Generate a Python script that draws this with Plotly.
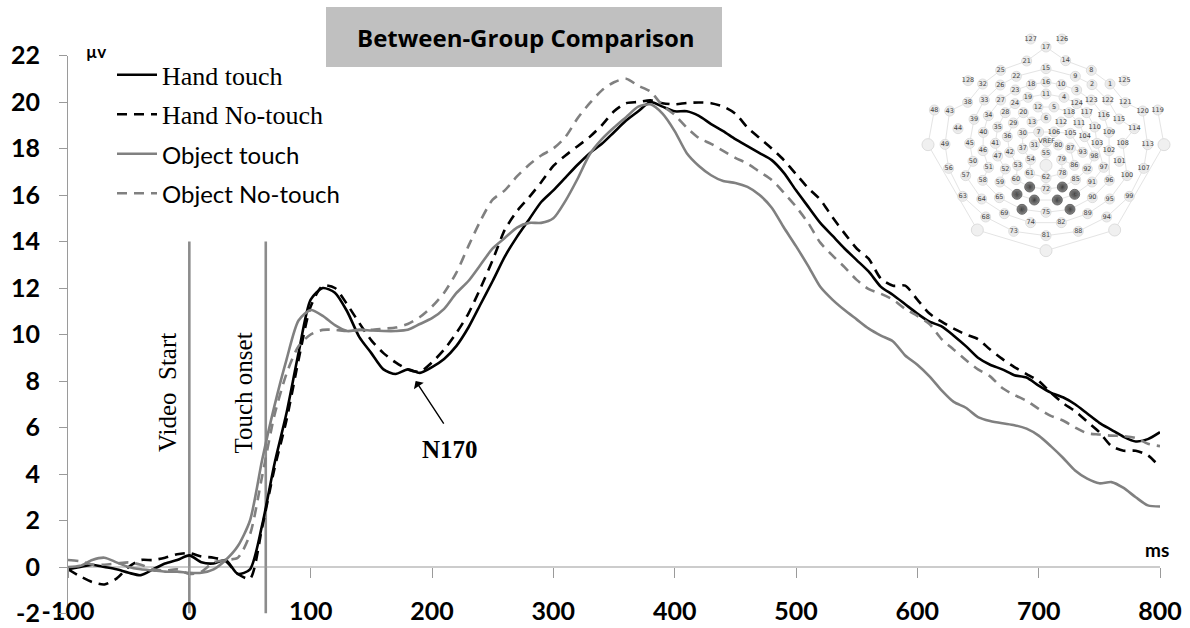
import plotly.graph_objects as go

W, H = 1190, 628

# ---- ERP waveforms (µV), sampled every 10 ms from -100 to 800 ms ----
time_ms = list(range(-100, 801, 10))

hand_touch = [
    -0.1, 0.0, 0.1, 0.0, -0.1, -0.25, -0.35, -0.1, 0.15, 0.3,
    0.5, 0.2, 0.15, 0.3, -0.3, -0.1, 1.8, 4.4, 6.6, 9.2,
    11.5, 12.0, 11.8, 11.0, 9.9, 9.2, 8.5, 8.3, 8.5, 8.35,
    8.6, 8.95, 9.5, 10.3, 11.3, 12.3, 13.35, 14.2, 14.95, 15.7,
    16.2, 16.75, 17.3, 17.8, 18.2, 18.7, 19.2, 19.6, 20.0, 19.8,
    19.6, 19.6, 19.4, 19.05, 18.75, 18.4, 18.1, 17.8, 17.5, 16.95,
    16.2, 15.5, 14.8, 14.25, 13.7, 13.2, 12.7, 12.05, 11.7, 11.3,
    10.9, 10.55, 10.35, 9.95, 9.5, 9.0, 8.7, 8.5, 8.25, 8.15,
    7.8, 7.5, 7.3, 7.0, 6.6, 6.2, 5.9, 5.6, 5.4, 5.5,
    5.8,
]

hand_no_touch = [
    -0.1, -0.4, -0.65, -0.75, -0.5, 0.0, 0.3, 0.3, 0.4, 0.55,
    0.6, 0.45, 0.4, 0.25, -0.3, -0.5, 1.7, 4.2, 6.3, 8.9,
    11.2, 12.1, 12.0, 11.3, 10.5, 9.75, 9.2, 8.8, 8.5, 8.4,
    8.8, 9.35, 10.06, 10.9, 12.0, 13.2, 14.5, 15.3, 15.9, 16.55,
    17.25, 17.7, 18.1, 18.5, 19.0, 19.6, 19.95, 20.0, 20.07, 19.95,
    19.9, 19.96, 19.98, 19.95, 19.8, 19.5, 18.9, 18.45, 18.0, 17.5,
    16.9, 16.3, 15.8, 15.05, 14.35, 13.7, 13.25, 12.4, 12.1, 12.1,
    11.5, 10.9, 10.55, 10.25, 10.0, 9.8, 9.35, 8.95, 8.6, 8.3,
    8.0, 7.5, 7.05, 6.7, 6.25, 5.8, 5.2, 5.0, 5.0, 4.8,
    4.3,
]

object_touch = [
    0.0, 0.05, 0.3, 0.4, 0.2, 0.0, -0.1, -0.15, -0.2, -0.2,
    -0.25, -0.25, -0.1, 0.3, 0.9, 2.0, 4.6, 6.9, 8.9, 10.6,
    11.05, 10.8, 10.4, 10.15, 10.2, 10.17, 10.15, 10.15, 10.2, 10.45,
    10.7, 11.1, 11.78, 12.3, 13.0, 13.7, 14.15, 14.6, 14.8, 14.8,
    15.0, 15.75, 16.7, 17.75, 18.4, 18.9, 19.35, 19.8, 19.9, 19.5,
    18.75, 17.8, 17.25, 16.85, 16.6, 16.52, 16.35, 16.0, 15.45, 14.6,
    13.8, 12.95, 12.05, 11.5, 11.05, 10.65, 10.25, 9.95, 9.7, 9.1,
    8.7, 8.2, 7.6, 7.1, 6.85, 6.45, 6.28, 6.18, 6.1, 5.95,
    5.65, 5.2, 4.7, 4.15, 3.8, 3.6, 3.65, 3.4, 3.0, 2.65,
    2.6,
]

object_no_touch = [
    0.3, 0.25, 0.1, 0.1, 0.15, 0.2, 0.1, -0.1, -0.15, -0.1,
    -0.3, -0.2, 0.2, 0.3, 0.4, 1.4, 3.9, 6.5, 8.3, 9.5,
    10.0, 10.2, 10.2, 10.15, 10.2, 10.2, 10.25, 10.3, 10.45, 10.75,
    11.2, 11.8, 12.65, 13.8, 14.9, 15.8, 16.2, 16.8, 17.3, 17.7,
    18.0, 18.5, 19.3, 19.95, 20.5, 20.85, 21.0, 20.7, 20.45, 19.85,
    19.45, 18.9, 18.45, 18.2, 17.9, 17.6, 17.35, 17.0, 16.65, 16.1,
    15.5, 14.8, 13.95, 13.4, 12.9, 12.35, 11.95, 11.75, 11.5, 11.1,
    10.8, 10.45, 9.8, 9.35, 8.9, 8.5, 8.2, 7.7, 7.4, 7.15,
    6.8, 6.5, 6.3, 6.0, 5.75, 5.7, 5.65, 5.63, 5.55, 5.3,
    5.2,
]

x_ticks = list(range(-100, 801, 100))
x_ticktext = [str(v) for v in x_ticks]
y_ticks = list(range(-2, 23, 2))
y_ticktext = [str(v) for v in y_ticks]
x_range = [-100, 800]
y_range = [-2, 22]

# event markers (ms)
event_times = [0, 63]
event_labels = ["Video  Start", "Touch onset"]
event_top = 14

# N170 component marker
n170_peak = (186.5, 8.0)
n170_label = "N170"

# ---- 128-channel sensor net layout (layout units) ----
sensor_labels = [
    "127", "126", "17", "21", "14", "25", "15", "8", "22", "9",
    "128", "32", "26", "18", "16", "10", "2", "1", "125", "23", "3",
    "11", "19", "4", "33", "27", "24", "124", "123", "122", "121",
    "38", "48", "43", "120", "119", "12", "5", "28", "20", "118", "117",
    "116", "115", "114", "39", "34", "29", "13", "6", "112", "111", "110",
    "44", "35", "40", "30", "7", "106", "105", "104", "109", "103", "108",
    "113", "36", "41", "31", "VREF", "80", "87", "45", "49", "46", "47",
    "42", "37", "55", "93", "98", "102", "50", "54", "79", "101", "56",
    "51", "52", "53", "86", "92", "97", "107", "57", "58", "59", "60",
    "61", "62", "78", "85", "91", "96", "100", "67", "72", "77", "66",
    "71", "76", "84", "63", "64", "65", "90", "95", "99", "70", "75",
    "83", "68", "69", "89", "94", "74", "82", "73", "81", "88",
]
sensor_x = [
    392, 486, 438, 380, 497, 302, 438, 574, 349, 526,
    204, 248, 301, 394, 438, 484, 576, 630, 673, 346, 530,
    438, 384, 492, 253, 302, 345, 530, 574, 623, 676,
    203, 103, 149, 728, 773, 414, 462, 316, 370, 507, 560,
    611, 657, 703, 222, 265, 340, 396, 438, 483, 537, 584,
    174, 293, 250, 368, 416, 462, 511, 554, 627, 591, 668,
    743, 322, 286, 403, 440, 475, 511, 209, 135, 249, 293,
    329, 368, 438, 548, 583, 627, 219, 392, 485, 658, 146,
    266, 316, 353, 523, 562, 611, 731, 197, 248, 300, 348,
    389, 438, 487, 527, 576, 628, 681, 389, 438, 487, 351,
    403, 472, 524, 188, 245, 298, 577, 629, 688, 366, 438,
    510, 257, 313, 563, 620, 392, 484, 341, 438, 535,
]
sensor_y = [
    117, 117, 141, 183, 182, 211, 206, 211, 229, 229,
    242, 252, 255, 254, 246, 254, 254, 252, 242, 270, 270,
    282, 292, 292, 300, 300, 311, 311, 300, 300, 308,
    307, 330, 333, 333, 330, 321, 321, 338, 338, 338, 338,
    346, 357, 386, 358, 347, 369, 366, 354, 366, 369, 381,
    386, 381, 397, 400, 396, 396, 400, 410, 397, 430, 430,
    434, 410, 430, 435, 425, 435, 444, 430, 433, 452, 468,
    457, 446, 459, 457, 468, 452, 484, 479, 479, 484, 505,
    502, 507, 496, 496, 507, 502, 505, 527, 541, 546, 539,
    520, 533, 520, 539, 546, 541, 527, 561, 567, 561, 583,
    600, 600, 583, 589, 597, 593, 593, 597, 589, 628, 637,
    628, 651, 641, 641, 651, 668, 668, 694, 707, 694,
]
# electrodes of the analysed cluster
cluster = ["66", "67", "70", "71", "76", "77", "83", "84"]

# reference / landmark pads without numbers
pad_x = [84, 792, 232, 644, 438, 438]
pad_y = [434, 434, 690, 690, 752, 496]

# rings of the net
net_rings = [
    ["48", "PL", "PBL", "PB", "PBR", "PR", "119"],
    ["17", "21", "25", "32", "38", "43", "49", "56", "63", "68", "73", "81",
     "88", "94", "99", "107", "113", "120", "121", "1", "8", "14", "17"],
    ["15", "22", "26", "33", "39", "45", "50", "57", "64", "69", "74", "82",
     "89", "95", "100", "108", "114", "115", "122", "2", "9", "15"],
    ["16", "18", "23", "27", "34", "40", "46", "51", "58", "65", "70", "75",
     "83", "90", "96", "102", "109", "116", "123", "3", "10", "16"],
    ["11", "19", "24", "28", "35", "41", "47", "52", "59", "66", "71", "76",
     "84", "91", "97", "103", "110", "117", "124", "4", "11"],
    ["6", "13", "20", "29", "36", "42", "53", "60", "67", "72", "77", "85",
     "92", "98", "104", "111", "118", "5", "12", "6"],
    ["7", "30", "37", "54", "61", "62", "78", "79", "86", "87", "93", "105",
     "106", "7"],
]


def fx(px):
    return px / W


def fy(py):
    return 1 - py / H


pos = {lab: (x, y) for lab, x, y in zip(sensor_labels, sensor_x, sensor_y)}
pos.update({"PL": (pad_x[0], pad_y[0]), "PR": (pad_x[1], pad_y[1]),
            "PBL": (pad_x[2], pad_y[2]), "PBR": (pad_x[3], pad_y[3]),
            "PB": (pad_x[4], pad_y[4])})

SERIF = "Liberation Serif"
SANS = "Lato"

fig = go.Figure()

series = [
    ("Hand touch", hand_touch, "#000000", "solid", SERIF, 26),
    ("Hand No-touch", hand_no_touch, "#000000", "10px,7px", SERIF, 26),
    ("Object touch", object_touch, "#808080", "solid", SANS, 24),
    ("Object No-touch", object_no_touch, "#808080", "10px,7px", SANS, 24),
]
for i, (name, vals, col, dash, fam, fsize) in enumerate(series):
    fig.add_trace(go.Scatter(
        x=time_ms, y=vals, mode="lines",
        name=f"<span style='font-family:{fam};font-size:{fsize}px'>{name}</span>",
        legendgroup=f"g{i}",
        line=dict(color=col, width=2.6, dash=dash, shape="spline", smoothing=0.7),
        xaxis="x", yaxis="y",
    ))

# sensor net connecting lines
for ring in net_rings:
    fig.add_trace(go.Scatter(
        x=[pos[k][0] for k in ring], y=[pos[k][1] for k in ring],
        mode="lines", line=dict(color="#e4e4e4", width=1),
        xaxis="x2", yaxis="y2", showlegend=False, hoverinfo="skip",
    ))

# landmark pads
fig.add_trace(go.Scatter(
    x=pad_x, y=pad_y, mode="markers",
    marker=dict(size=12, color="#f0f0f0", line=dict(color="#dddddd", width=1)),
    xaxis="x2", yaxis="y2", showlegend=False, hoverinfo="skip", cliponaxis=False,
))

plain = [i for i, s in enumerate(sensor_labels) if s not in cluster]
dark = [i for i, s in enumerate(sensor_labels) if s in cluster]
fig.add_trace(go.Scatter(
    x=[sensor_x[i] for i in plain], y=[sensor_y[i] for i in plain],
    text=[sensor_labels[i] for i in plain], mode="markers+text",
    textposition="middle center",
    textfont=dict(family="DejaVu Sans", size=6.5, color="#444444"),
    marker=dict(size=10, color="#f2f2f2", line=dict(color="#d6d6d6", width=0.8),
                gradient=dict(type="radial", color="#dcdcdc")),
    xaxis="x2", yaxis="y2", showlegend=False, hoverinfo="skip", cliponaxis=False,
))
fig.add_trace(go.Scatter(
    x=[sensor_x[i] for i in dark], y=[sensor_y[i] for i in dark],
    text=[sensor_labels[i] for i in dark], mode="markers+text",
    textposition="middle center",
    textfont=dict(family="DejaVu Sans", size=6.5, color="#666666"),
    marker=dict(size=10, color="#8a8a8a", line=dict(color="#555555", width=0.8),
                gradient=dict(type="radial", color="#3c3c3c")),
    xaxis="x2", yaxis="y2", showlegend=False, hoverinfo="skip", cliponaxis=False,
))

shapes = []
for t in event_times:
    shapes.append(dict(type="line", xref="x", yref="y", x0=t, x1=t,
                       y0=y_range[0], y1=event_top,
                       line=dict(color="#8c8c8c", width=2.6), layer="below"))
# x axis line through 0 µV
shapes.append(dict(type="line", xref="x", yref="y", x0=x_range[0], x1=x_range[1],
                   y0=0, y1=0, line=dict(color="#9a9a9a", width=1.2), layer="below"))
# title box
shapes.append(dict(type="rect", xref="paper", yref="paper",
                   x0=fx(326), x1=fx(722), y0=fy(67), y1=fy(7),
                   fillcolor="#c0c0c0", line=dict(width=0), layer="below"))

centered = dict(xanchor="center", yanchor="middle", showarrow=False)
annotations = [
    dict(text="<b>Between-Group Comparison</b>", xref="paper", yref="paper",
         x=fx(526), y=fy(37), font=dict(family="Open Sans", size=24, color="#000000"),
         **centered),
    dict(text="<b>µv</b>", xref="paper", yref="paper", x=fx(96), y=fy(52),
         font=dict(family=SANS, size=17, color="#000000"), **centered),
    dict(text="<b>ms</b>", xref="paper", yref="paper", x=fx(1157), y=fy(549),
         font=dict(family=SANS, size=19, color="#000000"), **centered),
    dict(text=f"<b>{n170_label}</b>", xref="x", yref="y", x=215, y=5.05,
         font=dict(family=SERIF, size=25, color="#000000"), **centered),
    dict(text="", xref="x", yref="y", axref="x", ayref="y",
         x=n170_peak[0], y=n170_peak[1], ax=210.5, ay=6.1,
         showarrow=True, arrowhead=1, arrowsize=1.4, arrowwidth=1.4,
         arrowcolor="#000000", standoff=0),
]
for t, lab in zip(event_times, event_labels):
    annotations.append(dict(text=lab, xref="x", yref="y", x=t - 18, y=7.5,
                            textangle=-90,
                            font=dict(family=SERIF, size=25, color="#000000"),
                            **centered))

tick_font = dict(family=SANS, size=25, color="#000000", weight="bold")

fig.update_layout(
    width=W, height=H,
    margin=dict(l=0, r=0, t=0, b=0, autoexpand=False),
    paper_bgcolor="#ffffff", plot_bgcolor="rgba(0,0,0,0)",
    showlegend=True,
    legend=dict(x=fx(112), y=fy(52), xanchor="left", yanchor="top",
                font=dict(family=SERIF, size=25, color="#000000"),
                bgcolor="rgba(0,0,0,0)", tracegroupgap=4, itemwidth=40,
                traceorder="grouped"),
    xaxis=dict(domain=[fx(68), fx(1160)], range=x_range, tickvals=x_ticks,
               ticktext=x_ticktext, automargin=False,
               anchor="free", position=fy(567.3),
               showline=False, showgrid=False, zeroline=False,
               ticks="outside", ticklen=10, tickcolor="#9a9a9a", tickwidth=1.2,
               ticklabelstandoff=12, tickfont=tick_font),
    yaxis=dict(domain=[fy(613.5), fy(55.5)], range=y_range, tickvals=y_ticks,
               ticktext=y_ticktext, automargin=False,
               anchor="x", showline=True, linecolor="#9a9a9a", linewidth=1.2,
               showgrid=False, zeroline=False,
               ticks="outside", ticklen=8, tickcolor="#9a9a9a", tickwidth=1.2,
               ticklabelstandoff=14, tickfont=tick_font),
    xaxis2=dict(domain=[fx(900), fx(1180)], range=[0, 840], visible=False,
                anchor="y2"),
    yaxis2=dict(domain=[fy(270), fy(20)], range=[810, 60], visible=False,
                anchor="x2"),
    shapes=shapes, annotations=annotations,
)

fig.write_html("out.html")
